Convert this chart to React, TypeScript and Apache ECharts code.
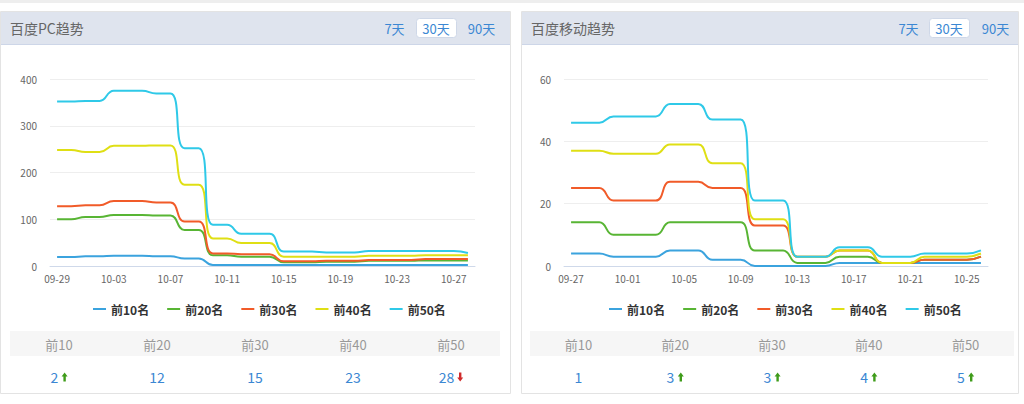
import React, { useEffect, useRef } from 'react';
import * as echarts from 'echarts';

const pcDates = ['09-29','09-30','10-01','10-02','10-03','10-04','10-05','10-06','10-07','10-08','10-09','10-10','10-11','10-12','10-13','10-14','10-15','10-16','10-17','10-18','10-19','10-20','10-21','10-22','10-23','10-24','10-25','10-26','10-27','10-28'];
const mobileDates = ['09-27','09-28','09-29','09-30','10-01','10-02','10-03','10-04','10-05','10-06','10-07','10-08','10-09','10-10','10-11','10-12','10-13','10-14','10-15','10-16','10-17','10-18','10-19','10-20','10-21','10-22','10-23','10-24','10-25','10-26'];

const seriesNames = ['前10名', '前20名', '前30名', '前40名', '前50名'];
const seriesColors = ['#3ba3de', '#58b534', '#f15b29', '#dfdf14', '#2fc9e8'];

const pcTop10 = [19,19,21,21,22,22,22,21,21,16,16,2,2,2,2,2,2,2,2,2,2,2,2,2,2,2,2,2,2,2];
const pcTop20 = [100,100,105,105,109,109,109,108,108,77,77,23,23,20,20,20,8,8,8,9,9,9,11,11,11,11,12,12,12,12];
const pcTop30 = [128,128,130,130,139,139,139,136,136,95,95,27,27,25,25,25,10,10,10,11,11,11,13,13,13,13,15,15,15,15];
const pcTop40 = [248,248,244,244,257,257,257,258,258,174,174,59,59,49,49,49,20,20,20,20,20,20,22,22,22,22,23,23,23,23];
const pcTop50 = [352,352,353,353,375,375,375,369,369,252,252,88,88,69,69,69,31,31,31,29,29,29,32,32,32,32,32,32,32,28];

const mTop10 = [4,4,4,3,3,3,3,5,5,5,2,2,2,0,0,0,0,0,0,1,1,1,1,1,1,1,1,1,1,1];
const mTop20 = [14,14,14,10,10,10,10,14,14,14,14,14,14,5,5,5,1,1,1,3,3,3,1,1,1,2,2,2,2,3];
const mTop30 = [25,25,25,21,21,21,21,27,27,27,25,25,25,13,13,13,3,3,3,5,5,5,1,1,1,2,2,2,2,3];
const mTop40 = [37,37,37,36,36,36,36,39,39,39,33,33,33,15,15,15,3,3,3,5,5,5,1,1,1,3,3,3,3,4];
const mTop50 = [46,46,46,48,48,48,48,52,52,52,47,47,47,21,21,21,3,3,3,6,6,6,3,3,3,4,4,4,4,5];

const pcYTicks = { max: 400, interval: 100 };
const mYTicks = { max: 60, interval: 20 };

const panelTitles = ['百度PC趋势', '百度移动趋势'];
const tabLabels = ['7天', '30天', '90天'];
const tableHeaders = ['前10', '前20', '前30', '前40', '前50'];
const pcSummary = [2, 12, 15, 23, 28];
const pcTrend = ['up', '', '', '', 'down'];
const mSummary = [1, 3, 3, 4, 5];
const mTrend = ['', 'up', 'up', 'up', 'up'];

const FONT = '"Microsoft YaHei", "Noto Sans CJK SC", sans-serif';
const BLUE_TEXT = '#3b87d3';

function buildGraphics() {
  const els: any[] = [];
  els.push({ type: 'rect', z: -20, shape: { x: 0, y: 0, width: 1024, height: 3 }, style: { fill: '#eeeeee' } });
  const panels = [
    { x0: 0.5, x1: 510.5, titleX: 10, tabs: [394.5, 436, 481.5], box: 416, tx0: 10, tw: 98, sum: pcSummary, trend: pcTrend },
    { x0: 521.5, x1: 1018.5, titleX: 531, tabs: [908.5, 949, 995.5], box: 929, tx0: 530, tw: 96.8, sum: mSummary, trend: mTrend },
  ];
  panels.forEach((p, pi) => {
    els.push({ type: 'rect', z: -20, shape: { x: p.x0, y: 11.5, width: p.x1 - p.x0, height: 382 }, style: { fill: '#ffffff', stroke: '#e3e3e3', lineWidth: 1 } });
    els.push({ type: 'rect', z: -19, shape: { x: p.x0 + 0.5, y: 12, width: p.x1 - p.x0 - 1, height: 32 }, style: { fill: '#dfe4ee' } });
    els.push({ type: 'line', z: -18, shape: { x1: p.x0 + 0.5, y1: 44.5, x2: p.x1 - 0.5, y2: 44.5 }, style: { stroke: '#cdd6e8', lineWidth: 1 } });
    els.push({ type: 'text', x: p.titleX, y: 28, style: { text: panelTitles[pi], fill: '#666666', fontSize: 14, fontFamily: FONT, textAlign: 'left', textVerticalAlign: 'middle' } });
    els.push({ type: 'rect', z: -17, shape: { x: p.box + 0.5, y: 18.5, width: 40, height: 19, r: 3 }, style: { fill: '#ffffff', stroke: '#cfd8e8', lineWidth: 1 } });
    tabLabels.forEach((t, ti) => {
      els.push({ type: 'text', x: p.tabs[ti], y: 28, style: { text: t, fill: BLUE_TEXT, fontSize: 13, fontFamily: FONT, textAlign: 'center', textVerticalAlign: 'middle' } });
    });
    els.push({ type: 'rect', z: -17, shape: { x: p.tx0, y: 331, width: p.tw * 5, height: 25 }, style: { fill: '#f6f6f6' } });
    tableHeaders.forEach((h, hi) => {
      const cx = p.tx0 + p.tw * (hi + 0.5);
      els.push({ type: 'text', x: cx, y: 344, style: { text: h, fill: '#999999', fontSize: 13, fontFamily: FONT, textAlign: 'center', textVerticalAlign: 'middle' } });
      const val = String(p.sum[hi]);
      const tr = p.trend[hi];
      if (!tr) {
        els.push({ type: 'text', x: cx, y: 377, style: { text: val, fill: BLUE_TEXT, fontSize: 14, fontFamily: FONT, textAlign: 'center', textVerticalAlign: 'middle' } });
      } else {
        const tw = val.length * 7.2;
        const start = cx - (tw + 4 + 6) / 2;
        els.push({ type: 'text', x: start, y: 377, style: { text: val, fill: BLUE_TEXT, fontSize: 14, fontFamily: FONT, textAlign: 'left', textVerticalAlign: 'middle' } });
        const ax = start + tw + 4;
        const ay = 372.5;
        const pts = tr === 'up'
          ? [[ax + 3, ay], [ax + 6, ay + 4], [ax + 4.2, ay + 4], [ax + 4.2, ay + 9], [ax + 1.8, ay + 9], [ax + 1.8, ay + 4], [ax, ay + 4]]
          : [[ax + 3, ay + 9], [ax + 6, ay + 5], [ax + 4.2, ay + 5], [ax + 4.2, ay], [ax + 1.8, ay], [ax + 1.8, ay + 5], [ax, ay + 5]];
        els.push({ type: 'polygon', shape: { points: pts }, style: { fill: tr === 'up' ? '#3f9c1a' : '#d02b2b' } });
      }
    });
  });
  return els;
}

function xAxisFor(data: string[], gi: number) {
  return {
    type: 'category', gridIndex: gi, data, boundaryGap: true,
    axisLine: { lineStyle: { color: '#cfd9ea' } },
    axisTick: { alignWithLabel: true, interval: 3, length: 5, lineStyle: { color: '#cfd9ea' } },
    axisLabel: { interval: 3, color: '#666666', fontSize: 10, margin: 7, fontFamily: FONT },
    splitLine: { show: false },
  };
}

function yAxisFor(t: { max: number; interval: number }, gi: number) {
  return {
    type: 'value', gridIndex: gi, min: 0, max: t.max, interval: t.interval,
    axisLine: { show: false }, axisTick: { show: false },
    axisLabel: { color: '#666666', fontSize: 10, margin: 13, fontFamily: FONT },
    splitLine: { lineStyle: { color: '#eeeeee' } },
  };
}

export default function App() {
  const ref = useRef<HTMLDivElement>(null);
  useEffect(() => {
    if (!ref.current) return;
    const chart = echarts.init(ref.current, undefined, { renderer: 'svg' });
    const pcData = [pcTop10, pcTop20, pcTop30, pcTop40, pcTop50];
    const mData = [mTop10, mTop20, mTop30, mTop40, mTop50];
    const series: any[] = [];
    [pcData, mData].forEach((set, gi) => {
      set.forEach((d, si) => {
        series.push({
          type: 'line', name: seriesNames[si], xAxisIndex: gi, yAxisIndex: gi, data: d,
          smooth: true, symbol: 'none', showSymbol: false,
          lineStyle: { width: 2, color: seriesColors[si] }, itemStyle: { color: seriesColors[si] },
        });
      });
    });
    const legendBase = {
      data: seriesNames, top: 298, icon: 'rect', itemWidth: 13, itemHeight: 2, itemGap: 18,
      textStyle: { color: '#333333', fontSize: 12, fontWeight: 'bold', fontFamily: FONT },
    };
    chart.setOption({
      animation: false,
      textStyle: { fontFamily: FONT },
      grid: [
        { left: 50, right: 549, top: 79, bottom: 138 },
        { left: 564, right: 36, top: 79, bottom: 138 },
      ],
      xAxis: [xAxisFor(pcDates, 0), xAxisFor(mobileDates, 1)],
      yAxis: [yAxisFor(pcYTicks, 0), yAxisFor(mYTicks, 1)],
      legend: [{ ...legendBase, left: 88 }, { ...legendBase, left: 604 }],
      graphic: { elements: buildGraphics() },
      series,
    });
    return () => chart.dispose();
  }, []);
  return <div ref={ref} style={{ position: 'absolute', left: 0, top: 0, width: 1024, height: 404 }} />;
}
